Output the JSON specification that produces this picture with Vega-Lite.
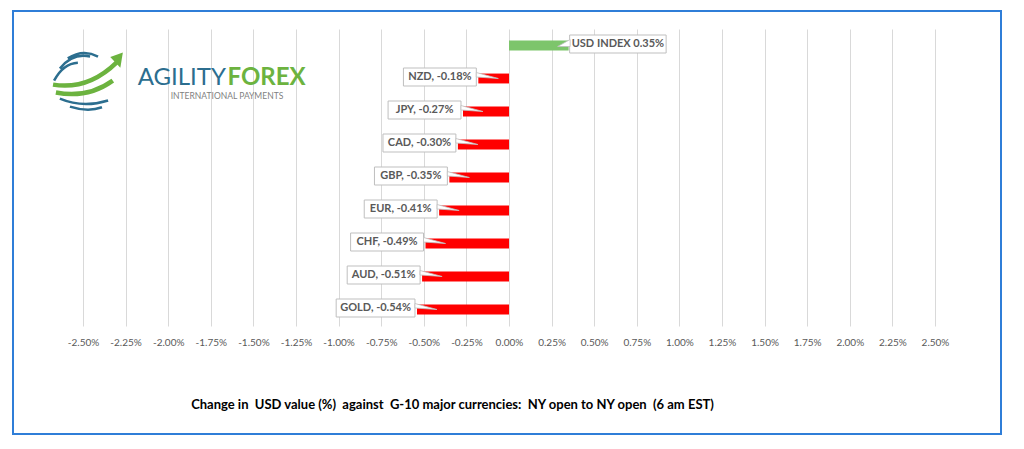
{
  "$schema": "https://vega.github.io/schema/vega-lite/v6.json",
  "autosize": "none",
  "width": 988,
  "height": 423,
  "padding": {"left": 13, "top": 11, "right": 23, "bottom": 15},
  "background": "white",
  "config": {"view": {"stroke": "#2F7ED8", "strokeWidth": 2}, "font": "Lato"},
  "layer": [
    {
      "data": {"values": [
        {"name": "USD INDEX", "value": 0.35, "label": "USD INDEX 0.35%"},
        {"name": "NZD", "value": -0.18, "label": "NZD, -0.18%"},
        {"name": "JPY", "value": -0.27, "label": "JPY, -0.27%"},
        {"name": "CAD", "value": -0.30, "label": "CAD, -0.30%"},
        {"name": "GBP", "value": -0.35, "label": "GBP, -0.35%"},
        {"name": "EUR", "value": -0.41, "label": "EUR, -0.41%"},
        {"name": "CHF", "value": -0.49, "label": "CHF, -0.49%"},
        {"name": "AUD", "value": -0.51, "label": "AUD, -0.51%"},
        {"name": "GOLD", "value": -0.54, "label": "GOLD, -0.54%"}
      ]},
      "encoding": {
        "x": {
          "field": "value", "type": "quantitative",
          "scale": {"domain": [-2.5, 2.5], "range": [70, 922], "nice": false, "zero": false},
          "axis": {
            "orient": "top",
            "values": [-2.5, -2.25, -2, -1.75, -1.5, -1.25, -1, -0.75, -0.5, -0.25, 0, 0.25, 0.5, 0.75, 1, 1.25, 1.5, 1.75, 2, 2.25, 2.5],
            "labelExpr": "(datum.value < 0 ? '-' : '') + format(abs(datum.value), '.2f') + '%'",
            "labelFontSize": 10, "labelColor": "#595959", "labelFont": "Lato", "labelOverlap": false, "labelFlush": false,
            "domain": false, "ticks": false, "grid": true, "gridColor": "#D9D9D9", "gridWidth": 1,
            "offset": -340, "labelPadding": 4,
            "title": "Change in\u00a0 USD value (%)\u00a0 against\u00a0 G-10 major currencies:\u00a0 NY open to NY open\u00a0 (6 am EST)",
            "titleFontSize": 13, "titleFont": "Lato", "titleColor": "#000000", "titleFontWeight": "bold",
            "titleX": 439, "titleY": 53, "titleAlign": "center", "titleBaseline": "middle", "titleAngle": 0
          }
        },
        "y": {
          "field": "name", "type": "nominal", "axis": null,
          "scale": {"domain": ["USD INDEX", "NZD", "JPY", "CAD", "GBP", "EUR", "CHF", "AUD", "GOLD"], "range": [18, 315], "paddingInner": 0.7, "paddingOuter": 0.35}
        }
      },
      "layer": [
        {
          "mark": {"type": "bar"},
          "encoding": {
            "color": {"condition": {"test": "datum.value > 0", "value": "#7DC56B"}, "value": "#FF0000"}
          }
        },
        {
          "mark": {
            "type": "rect", "fill": "white", "stroke": "#BFBFBF", "strokeWidth": 1, "height": 18,
            "width": {"expr": "length(datum.label) * 5.9 + 8"},
            "xOffset": {"expr": "datum.value < 0 ? -(2 + (length(datum.label) * 5.9 + 8) / 2) : (1 + (length(datum.label) * 5.9 + 8) / 2)"},
            "yOffset": -1.5
          }
        },
        {
          "mark": {
            "type": "point", "filled": true, "fill": "white", "stroke": "#BFBFBF", "strokeWidth": 0.8, "opacity": 1, "size": 1600,
            "shape": {"expr": "datum.value < 0 ? 'M -0.1 -0.3 L 1 0 L -0.1 -0.075 Z' : 'M 0.075 -0.3 L -0.55 0.05 L 0.075 0.05 Z'"}
          }
        },
        {
          "mark": {
            "type": "text", "fontWeight": "bold", "fontSize": 11, "font": "Lato", "color": "#595959", "align": "center", "baseline": "middle",
            "dx": {"expr": "datum.value < 0 ? -(2 + (length(datum.label) * 5.9 + 8) / 2) : (1 + (length(datum.label) * 5.9 + 8) / 2)"},
            "dy": -1.5
          },
          "encoding": {"text": {"field": "label"}}
        }
      ]
    },
    {
      "data": {"values": [{}]},
      "mark": {"type": "text", "text": "AGILITY", "align": "right", "baseline": "alphabetic", "dy": 6, "fontSize": 24, "font": "Lato", "fontWeight": "normal", "color": "#2C6E8F"},
      "encoding": {"x": {"datum": -1.661, "type": "quantitative"}, "y": {"datum": "NZD", "type": "nominal"}}
    },
    {
      "data": {"values": [{}]},
      "mark": {"type": "text", "text": "FOREX", "align": "left", "baseline": "alphabetic", "dy": 6, "fontSize": 24, "font": "Lato", "fontWeight": "bold", "color": "#6CB33F"},
      "encoding": {"x": {"datum": -1.652, "type": "quantitative"}, "y": {"datum": "NZD", "type": "nominal"}}
    },
    {
      "data": {"values": [{}]},
      "mark": {"type": "text", "text": "INTERNATIONAL PAYMENTS", "align": "center", "baseline": "alphabetic", "dy": 20, "fontSize": 8.5, "font": "Lato", "color": "#7F7F7F"},
      "encoding": {"x": {"datum": -1.655, "type": "quantitative"}, "y": {"datum": "NZD", "type": "nominal"}}
    },
    {
      "data": {"values": [{}]},
      "mark": {"type": "point", "filled": false, "stroke": "#2C6E8F", "strokeWidth": 2.5, "opacity": 1, "size": 5184,
        "shape": "M -0.56 -0.56 Q -0.14 -0.83 0.28 -0.61 M -0.78 -0.28 Q -0.42 -0.72 0.06 -0.61 M -0.94 0.06 Q -0.69 -0.42 -0.28 -0.44 M -0.78 0.56 Q -0.14 0.83 0.56 0.61 M -0.5 0.78 Q 0 0.94 0.39 0.8"},
      "encoding": {"x": {"datum": -2.471, "type": "quantitative"}, "y": {"datum": "NZD", "type": "nominal"}}
    },
    {
      "data": {"values": [{}]},
      "mark": {"type": "point", "filled": false, "stroke": "#6CB33F", "strokeWidth": 4.5, "opacity": 1, "size": 5184,
        "shape": "M -0.97 0.17 Q 0 0.33 0.8 -0.45 M -0.89 0.39 Q 0 0.56 0.69 0.06"},
      "encoding": {"x": {"datum": -2.471, "type": "quantitative"}, "y": {"datum": "NZD", "type": "nominal"}}
    },
    {
      "data": {"values": [{}]},
      "mark": {"type": "point", "filled": true, "fill": "#6CB33F", "strokeWidth": 0, "opacity": 1, "size": 5184,
        "shape": "M 0.97 -0.72 L 0.62 -0.6 L 0.9 -0.3 Z"},
      "encoding": {"x": {"datum": -2.471, "type": "quantitative"}, "y": {"datum": "NZD", "type": "nominal"}}
    }
  ]
}
